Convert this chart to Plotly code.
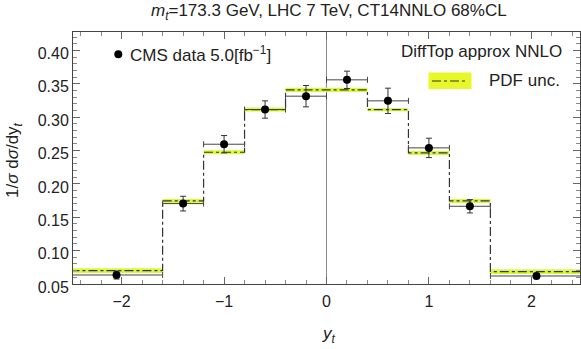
import plotly.graph_objects as go

# bin edges in top rapidity
bin_edges = [-2.5, -1.6, -1.2, -0.8, -0.4, 0.0, 0.4, 0.8, 1.2, 1.6, 2.5]
# CMS data (bin centres, values, errors)
data_x = [-2.05, -1.4, -1.0, -0.6, -0.2, 0.2, 0.6, 1.0, 1.4, 2.05]
data_y = [0.0635, 0.1705, 0.2595, 0.3115, 0.3315, 0.356, 0.3245, 0.254, 0.1665, 0.062]
data_err = [0.006, 0.011, 0.013, 0.013, 0.016, 0.013, 0.019, 0.0145, 0.010, 0.004]
data_xerr = [0.45, 0.2, 0.2, 0.2, 0.2, 0.2, 0.2, 0.2, 0.2, 0.45]
# DiffTop approx NNLO central values per bin and PDF uncertainty
theory = [0.070, 0.1745, 0.2475, 0.3115, 0.341, 0.341, 0.3113, 0.2465, 0.1745, 0.0685]
pdf_unc = [0.0035, 0.003, 0.003, 0.003, 0.0033, 0.0033, 0.0025, 0.003, 0.003, 0.0035]

upper = [t + u for t, u in zip(theory, pdf_unc)]
lower = [t - u for t, u in zip(theory, pdf_unc)]

band_color = "#dcf83c"
fig = go.Figure()
fig.add_trace(go.Scatter(x=bin_edges, y=lower + [lower[-1]], mode="lines",
                         line=dict(shape="hv", width=0, color=band_color),
                         showlegend=False, hoverinfo="skip"))
fig.add_trace(go.Scatter(x=bin_edges, y=upper + [upper[-1]], mode="lines",
                         line=dict(shape="hv", width=0, color=band_color),
                         fill="tonexty", fillcolor=band_color,
                         showlegend=False, hoverinfo="skip"))
fig.add_trace(go.Scatter(x=bin_edges, y=theory + [theory[-1]], mode="lines",
                         line=dict(shape="hv", width=1.2, color="#333333", dash="dashdot"),
                         showlegend=False))
fig.add_trace(go.Scatter(x=data_x, y=data_y, mode="markers",
                         marker=dict(color="black", size=8),
                         error_y=dict(type="data", array=data_err, color="#333333", thickness=1, width=3),
                         error_x=dict(type="data", array=data_xerr, color="#444444", thickness=1, width=3),
                         showlegend=False))

font = "Liberation Sans, Arial, sans-serif"
fig.update_layout(
    width=581, height=349,
    margin=dict(l=73, r=1, t=32, b=65, autoexpand=False),
    paper_bgcolor="white", plot_bgcolor="white",
    font=dict(family=font, size=16, color="#222222"),
    showlegend=False,
    xaxis=dict(range=[-2.475, 2.475], tickvals=[-2, -1, 0, 1, 2], ticktext=["\u22122", "\u22121", "0", "1", "2"],
               ticks="inside", ticklen=7, tickcolor="#666666", showline=True, linecolor="#444444",
               mirror="ticks", showgrid=False, zeroline=True, zerolinecolor="#888888", zerolinewidth=1,
               automargin=False, ticklabelstandoff=3,
               minor=dict(dtick=0.2, ticks="inside", ticklen=4, tickcolor="#888888")),
    yaxis=dict(range=[0.05, 0.4277], dtick=0.05, tickformat=".2f",
               ticks="inside", ticklen=7, tickcolor="#666666", showline=True, linecolor="#444444",
               mirror="ticks", showgrid=False, zeroline=False, automargin=False, ticklabelshift=3,
               minor=dict(dtick=0.01, ticks="inside", ticklen=4, tickcolor="#888888")),
)

def px(xp):
    return (xp - 73) / 507.0

def py(yp):
    return (284 - yp) / 252.0

# title and axis titles
fig.add_annotation(xref="paper", yref="paper", x=px(329), y=py(12), xanchor="center", yanchor="middle",
                   text="<i>m</i><sub><i>t</i></sub>=173.3 GeV, LHC 7 TeV, CT14NNLO 68%CL",
                   showarrow=False, font=dict(size=17))
fig.add_annotation(xref="paper", yref="paper", x=px(329), y=py(335), xanchor="center", yanchor="middle",
                   text="<i>y</i><sub><i>t</i></sub>", showarrow=False, font=dict(size=17))
fig.add_annotation(xref="paper", yref="paper", x=px(14), y=py(160), xanchor="center", yanchor="middle",
                   text="1/<i>σ</i> d<i>σ</i>/dy<sub><i>t</i></sub>", textangle=-90,
                   showarrow=False, font=dict(size=17))

# legend: CMS data
fig.add_shape(type="circle", xref="paper", yref="paper",
              x0=px(114.3), x1=px(122.3), y0=py(58.3), y1=py(50.3),
              fillcolor="black", line=dict(width=0))
fig.add_annotation(xref="paper", yref="paper", x=px(128), y=py(54), xanchor="left", yanchor="middle",
                   text="CMS data 5.0[fb<sup>\u22121</sup>]", showarrow=False, font=dict(size=17))
# legend: theory
fig.add_annotation(xref="paper", yref="paper", x=px(564), y=py(51.5), xanchor="right", yanchor="middle",
                   text="DiffTop approx NNLO", showarrow=False, font=dict(size=17))
fig.add_shape(type="rect", xref="paper", yref="paper",
              x0=px(428.5), x1=px(471.5), y0=py(89), y1=py(72.5),
              fillcolor="#e6f82a", line=dict(width=0))
fig.add_shape(type="line", xref="paper", yref="paper",
              x0=px(432), x1=px(468), y0=py(81), y1=py(81),
              line=dict(color="#333333", width=1.2, dash="dashdot"))
fig.add_annotation(xref="paper", yref="paper", x=px(487), y=py(80.5), xanchor="left", yanchor="middle",
                   text="PDF unc.", showarrow=False, font=dict(size=17))

fig.write_html("out.html", config={"displayModeBar": False},
               post_script="document.body.style.margin='0';")
